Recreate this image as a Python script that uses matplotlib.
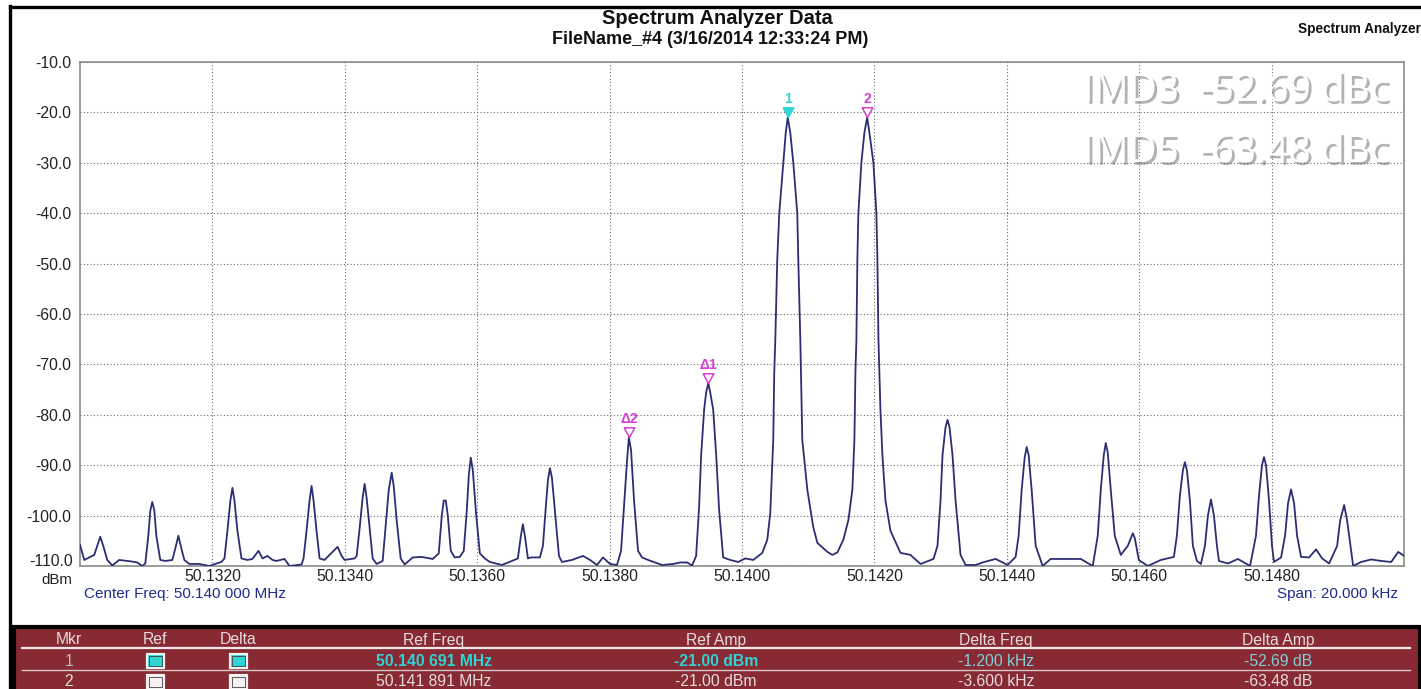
import matplotlib
matplotlib.use("Agg")
import matplotlib.pyplot as plt
from matplotlib import patheffects
from matplotlib.patches import Rectangle
from matplotlib.lines import Line2D

plt.rcParams['font.family'] = ['Liberation Sans', 'DejaVu Sans']

W, H = 1421, 689

# sweep settings
start_mhz = 50.130
span_khz = 20.0

# trace vertices: offset from start (kHz) and level (dBm)
trace_khz = [
    0.000, 0.064, 0.215, 0.306, 0.351, 0.412, 0.487, 0.593, 0.775, 0.865, 0.941,
    0.986, 1.032, 1.062, 1.092, 1.123, 1.153, 1.213, 1.289, 1.395,
    1.440, 1.486, 1.531, 1.576, 1.652, 1.803, 1.955, 2.061, 2.136,
    2.182, 2.227, 2.272, 2.303, 2.333, 2.378, 2.439,
    2.530, 2.605, 2.696, 2.757, 2.832, 2.908, 2.968, 3.089, 3.165, 3.347,
    3.377, 3.422, 3.468, 3.498, 3.528, 3.573, 3.619,
    3.694, 3.770, 3.891, 3.952, 3.997, 4.148,
    4.179, 4.224, 4.269, 4.300, 4.330, 4.375, 4.421, 4.481,
    4.572, 4.617, 4.663, 4.708, 4.738, 4.784, 4.844, 4.905,
    5.026, 5.162, 5.328,
    5.419, 5.465, 5.495, 5.525, 5.556, 5.601, 5.661, 5.737,
    5.797, 5.843, 5.873, 5.903, 5.934, 5.979, 6.040,
    6.115, 6.191, 6.372, 6.524,
    6.614, 6.660, 6.690, 6.720, 6.766, 6.811, 6.947,
    6.993, 7.038, 7.068, 7.099, 7.129, 7.174, 7.235, 7.280,
    7.431, 7.598, 7.704, 7.810, 7.900, 8.006, 8.112,
    8.173, 8.218, 8.264, 8.291, 8.324, 8.369, 8.430, 8.490, 8.581, 8.793,
    8.959, 9.065, 9.171, 9.247,
    9.307, 9.353, 9.383, 9.428, 9.459, 9.491, 9.519, 9.565, 9.610, 9.655, 9.716,
    9.822, 9.943, 10.049, 10.170, 10.306, 10.382, 10.427, 10.457, 10.472,
    10.487, 10.503, 10.533, 10.563, 10.624, 10.661, 10.691, 10.729, 10.775,
    10.835, 10.850, 10.881, 10.911, 10.987, 11.077, 11.138, 11.289, 11.365,
    11.441, 11.531, 11.607, 11.667, 11.698, 11.713, 11.728, 11.743, 11.758,
    11.803, 11.849, 11.891, 11.924, 11.985, 12.030, 12.045, 12.061, 12.091,
    12.121, 12.167, 12.242, 12.394, 12.545, 12.697, 12.893,
    12.953, 12.999, 13.029, 13.074, 13.105, 13.135, 13.180, 13.226, 13.301,
    13.377, 13.528, 13.634, 13.831, 14.012, 14.133,
    14.179, 14.224, 14.270, 14.300, 14.330, 14.376, 14.436, 14.542, 14.663,
    15.117, 15.298,
    15.374, 15.419, 15.465, 15.495, 15.525, 15.571, 15.631, 15.722, 15.828,
    15.873, 15.904, 15.934, 15.994, 16.130, 16.327, 16.524,
    16.569, 16.615, 16.660, 16.690, 16.721, 16.766, 16.811, 16.872, 16.932,
    16.993, 17.038, 17.084, 17.129, 17.174, 17.205, 17.341, 17.492, 17.674,
    17.764, 17.810, 17.855, 17.885, 17.916, 17.961, 18.006, 18.037, 18.143,
    18.203, 18.249, 18.294, 18.339, 18.385, 18.445, 18.566, 18.672, 18.763,
    18.869, 18.990, 19.035, 19.096, 19.141, 19.202, 19.232, 19.353, 19.504,
    19.656, 19.807, 19.913, 20.000,
]
trace_dbm = [
    -105.8, -108.8, -107.8, -104.2, -106.0, -108.8, -109.9, -108.8, -109.1, -109.3, -110.0,
    -109.5, -104.0, -99.0, -97.3, -99.0, -104.0, -108.8, -109.0, -108.8,
    -106.5, -104.0, -106.5, -108.8, -109.6, -109.6, -110.0, -109.5, -109.2,
    -108.5, -103.0, -97.0, -94.5, -97.0, -103.0, -108.5,
    -108.8, -108.6, -107.0, -108.5, -108.0, -108.8, -109.0, -108.6, -110.0, -109.7,
    -108.5, -103.0, -97.0, -94.1, -97.0, -103.0, -108.5,
    -108.8, -107.8, -106.2, -108.0, -108.8, -108.5,
    -108.0, -102.5, -96.5, -93.7, -96.5, -102.5, -108.5, -109.6,
    -109.0, -102.0, -95.0, -91.5, -94.0, -101.0, -108.5, -109.7,
    -108.3, -108.2, -108.6,
    -107.5, -100.0, -97.0, -97.0, -100.0, -107.0, -108.3, -108.2,
    -107.0, -99.0, -92.0, -88.5, -91.0, -99.0, -107.5,
    -108.5, -109.2, -109.8, -109.0,
    -108.5, -104.0, -101.7, -104.0, -108.5, -108.3, -108.3,
    -106.0, -98.0, -93.0, -90.6, -92.5, -99.0, -108.0, -109.2,
    -108.8, -108.0, -108.8, -109.8, -108.3, -109.6, -109.8,
    -107.0, -98.0, -89.0, -84.5, -87.0, -97.0, -107.0, -108.3, -108.8, -109.8,
    -109.6, -109.3, -109.3, -109.9,
    -108.0, -98.0, -88.0, -79.0, -75.5, -73.7, -75.5, -79.0, -88.0, -99.0, -108.3,
    -108.8, -109.2, -108.5, -108.8, -107.4, -104.8, -99.5, -90.0, -85.0,
    -71.7, -65.2, -49.0, -40.0, -30.0, -24.0, -21.0, -24.0, -30.0,
    -40.0, -49.0, -65.2, -85.0, -94.9, -102.3, -105.4, -107.2, -107.8,
    -107.3, -104.8, -100.9, -94.9, -85.0, -71.7, -65.2, -49.0, -40.0,
    -30.0, -24.0, -21.0, -24.0, -30.0, -40.0, -49.0, -65.0, -79.0,
    -88.0, -97.0, -103.0, -107.4, -107.8, -109.6, -108.6,
    -106.0, -97.0, -88.0, -82.5, -81.0, -82.5, -88.0, -97.0, -107.8,
    -109.8, -109.8, -109.3, -108.6, -109.8, -108.2,
    -104.0, -95.0, -88.5, -86.4, -88.0, -95.0, -106.0, -110.0, -108.6,
    -108.6, -110.0,
    -104.0, -95.0, -88.0, -85.6, -87.5, -95.0, -104.0, -107.8, -106.0,
    -104.5, -103.5, -104.5, -108.8, -110.0, -108.8, -108.2,
    -104.0, -96.0, -91.0, -89.4, -91.0, -97.0, -106.0, -109.0, -109.6,
    -106.0, -100.0, -96.8, -100.0, -106.0, -109.0, -109.5, -108.6, -110.0,
    -104.0, -96.0, -90.0, -88.4, -90.0, -97.0, -106.0, -109.2, -108.3,
    -104.0, -97.5, -94.8, -97.5, -104.0, -108.2, -108.3, -106.7, -108.5,
    -109.5, -106.0, -101.0, -97.9, -101.0, -107.0, -110.0, -109.2, -108.7,
    -109.0, -109.2, -107.2, -108.0,
]

# markers
mkr_names = ['1', '2', 'Δ1', 'Δ2']
mkr_khz = [10.691, 11.891, 9.491, 8.291]
mkr_dbm = [-21.0, -21.0, -73.69, -84.48]

# y and x axis ticks
y_ticks = [-10, -20, -30, -40, -50, -60, -70, -80, -90, -100, -110]
x_ticks = [50.132, 50.134, 50.136, 50.138, 50.140, 50.142, 50.144, 50.146, 50.148]

# marker table
tbl_header = ['Mkr', 'Ref', 'Delta', 'Ref Freq', 'Ref Amp', 'Delta Freq', 'Delta Amp']
tbl_mkr = ['1', '2']
tbl_ref_freq = ['50.140 691 MHz', '50.141 891 MHz']
tbl_ref_amp = ['-21.00 dBm', '-21.00 dBm']
tbl_delta_freq = ['-1.200 kHz', '-3.600 kHz']
tbl_delta_amp = ['-52.69 dB', '-63.48 dB']

imd_lines = ['IMD3  -52.69 dBc', 'IMD5  -63.48 dBc']


def fx(x):
    return x / W


def fy(y):
    return 1 - y / H


trace_col = '#2d2d72'
cyan = '#2fd4d4'
magenta = '#d23fd2'
navy = '#1f2a8c'
red_bg = '#872a33'
light = '#e6dcdc'
fs = 11.3

fig = plt.figure(figsize=(W / 100, H / 100), dpi=100)
fig.patch.set_facecolor('white')

# black screen frame
fig.add_artist(Line2D([fx(10), fx(1425)], [fy(6.5), fy(6.5)], color='black', lw=2.4))
fig.add_artist(Line2D([fx(10), fx(10)], [fy(6), fy(692)], color='black', lw=2.4))

ax = fig.add_axes([fx(80), fy(566), (1404 - 80) / W, (566 - 62) / H])
freq_mhz = [start_mhz + k / 1000 for k in trace_khz]
ax.plot(freq_mhz, trace_dbm, color=trace_col, lw=1.3, zorder=3)
ax.set_xlim(start_mhz, start_mhz + span_khz / 1000)
ax.set_ylim(-110, -10)
ax.set_yticks(y_ticks)
# bottom label is placed by hand together with its unit
ax.set_yticklabels([f'{v:.1f}' if v != -110 else '' for v in y_ticks])
ax.set_xticks(x_ticks)
ax.set_xticklabels([f'{v:.4f}' for v in x_ticks])
ax.tick_params(length=0, labelsize=fs, colors='#222222', pad=6)
ax.tick_params(axis='x', pad=2)
ax.grid(True, color='#6a6a6a', lw=0.8, ls=(0, (1, 2)))
for s in ax.spines.values():
    s.set_color('#8c8c8c')
    s.set_linewidth(1.2)

# markers on the peaks, tip on the peak
tri = [(-0.55, 1.0), (0.55, 1.0), (0.0, 0.0), (-0.55, 1.0)]
for i, name in enumerate(mkr_names):
    f = start_mhz + mkr_khz[i] / 1000
    col = cyan if i == 0 else magenta
    face = cyan if i == 0 else 'white'
    ax.plot([f], [mkr_dbm[i]], marker=tri, ms=14, mfc=face, mec=col, mew=1.1,
            ls='none', zorder=5, clip_on=False)
    ax.annotate(name, (f, mkr_dbm[i]), xytext=(0, 18), textcoords='offset pixels',
                ha='center', va='center', color=col, fontsize=10, fontweight='bold',
                zorder=6)

# titles
fig.text(fx(717), fy(19), 'Spectrum Analyzer Data', ha='center', va='center',
         fontsize=14.5, fontweight='bold', color='#111111')
fig.text(fx(710), fy(40), 'FileName_#4 (3/16/2014 12:33:24 PM)', ha='center',
         va='center', fontsize=13, fontweight='bold', color='#111111')
fig.text(fx(1298), fy(29), 'Spectrum Analyzer', ha='left', va='center',
         fontsize=9.8, fontweight='bold', color='#111111')

fig.text(fx(73), fy(562), '-110.0', ha='right', va='center', fontsize=fs, color='#222222')
fig.text(fx(72), fy(580), 'dBm', ha='right', va='center', fontsize=fs - 0.5,
         color='#222222')
fig.text(fx(84), fy(594), 'Center Freq: 50.140 000 MHz', ha='left', va='center',
         fontsize=fs - 0.3, color=navy)
fig.text(fx(1398), fy(594), 'Span: 20.000 kHz', ha='right', va='center',
         fontsize=fs - 0.3, color=navy)

# IMD overlay
shadow = [patheffects.withSimplePatchShadow(offset=(2, -2), shadow_rgbFace='#666666',
                                            alpha=0.5)]
for i, txt in enumerate(imd_lines):
    fig.text(fx(1388), fy(91 + 61 * i), txt, ha='right', va='center', fontsize=28,
             family=['Open Sans', 'DejaVu Sans'], color='white', path_effects=shadow,
             zorder=10)

# marker table
fig.add_artist(Rectangle((fx(14), fy(692)), fx(1420) - fx(14), fy(627) - fy(692),
                         transform=fig.transFigure, facecolor=red_bg,
                         edgecolor='black', lw=3))
fig.add_artist(Line2D([fx(22), fx(1410)], [fy(648), fy(648)], color='#f0e8e8', lw=1.6))
fig.add_artist(Line2D([fx(22), fx(1410)], [fy(670), fy(670)], color='#d8c8c8', lw=1.0))

col_x = [69, 155, 238, 434, 716, 996, 1278]
for cx, h in zip(col_x, tbl_header):
    fig.text(fx(cx), fy(640), h, ha='center', va='center', fontsize=fs, color=light)

row_y = [661, 682]
for r in range(2):
    y = row_y[r]
    if r == 0:
        c_main, c_delta, wt = cyan, '#7fd0d8', 'bold'
    else:
        c_main, c_delta, wt = light, light, 'normal'
    fig.text(fx(col_x[0]), fy(y), tbl_mkr[r], ha='center', va='center', fontsize=fs,
             color='#c8b8b8' if r == 0 else light)
    for cx in col_x[1:3]:
        fig.add_artist(Rectangle((fx(cx - 8.5), fy(y + 7)), 17 / W, 14 / H,
                                 transform=fig.transFigure,
                                 facecolor=cyan if r == 0 else '#f6f0f0',
                                 edgecolor='#f2f2f2', lw=1.6))
        fig.add_artist(Rectangle((fx(cx - 6.5), fy(y + 5)), 13 / W, 10 / H,
                                 transform=fig.transFigure, facecolor='none',
                                 edgecolor='#404040', lw=0.6))
    fig.text(fx(col_x[3]), fy(y), tbl_ref_freq[r], ha='center', va='center',
             fontsize=fs, color=c_main, fontweight=wt)
    fig.text(fx(col_x[4]), fy(y), tbl_ref_amp[r], ha='center', va='center',
             fontsize=fs, color=c_main, fontweight=wt)
    fig.text(fx(col_x[5]), fy(y), tbl_delta_freq[r], ha='center', va='center',
             fontsize=fs, color=c_delta)
    fig.text(fx(col_x[6]), fy(y), tbl_delta_amp[r], ha='center', va='center',
             fontsize=fs, color=c_delta)

fig.savefig('out.png', dpi=100, facecolor='white')
